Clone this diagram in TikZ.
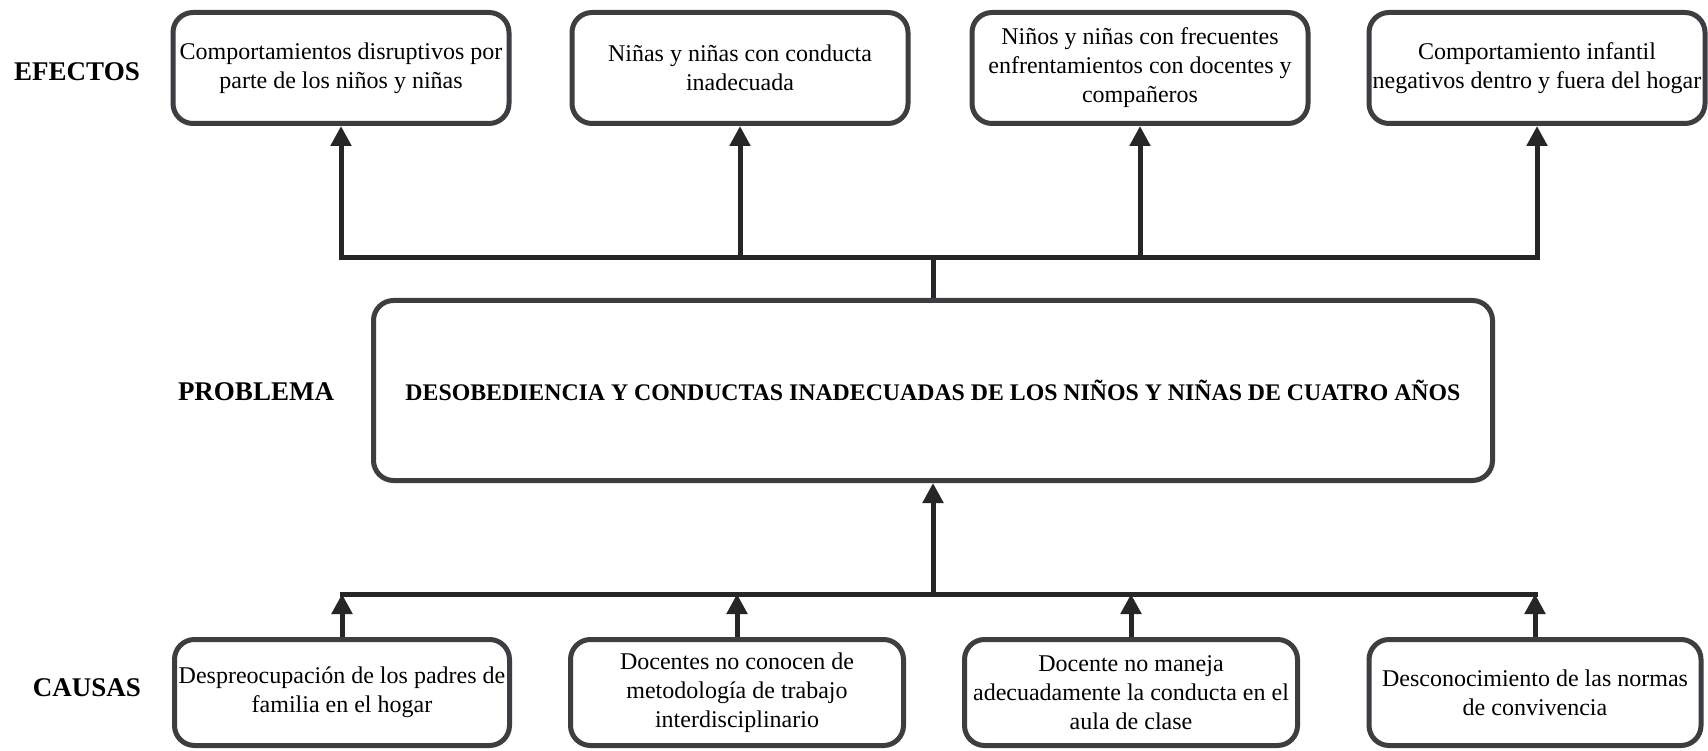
\documentclass[tikz,border=0pt]{standalone}
\usepackage{fontspec}
\setmainfont{Liberation Serif}
\usetikzlibrary{arrows.meta}
\definecolor{boxc}{RGB}{62,62,66}
\definecolor{linec}{RGB}{38,38,40}
\begin{document}
\begin{tikzpicture}[x=1pt,y=-1pt,
  box/.style={draw=boxc, line width=5pt, rounded corners=20pt, fill=white, align=center, inner sep=0pt, font=\fontsize{24}{29}\selectfont},
  ebox/.style={box, minimum width=336pt, minimum height=111pt},
  cbox/.style={box, minimum height=106pt},
  pbox/.style={box, minimum width=1119pt, minimum height=180pt, font=\bfseries\fontsize{23.8}{28}\selectfont},
  lbl/.style={font=\bfseries\fontsize{27}{32}\selectfont, inner sep=0pt},
  conn/.style={draw=linec, line width=5pt},
  arr/.style={conn, -{Triangle[length=20pt,width=20pt]}}
]
\fill[white] (0,0) rectangle (1708,751);
\useasboundingbox (0,0) rectangle (1708,751);

% labels
\node[lbl] (lefe) at (77,72) {EFECTOS};
\node[lbl] (lpro) at (256,392) {PROBLEMA};
\node[lbl] (lcau) at (87,688) {CAUSAS};

% effects
\node[ebox] (e1) at (341,68) {Comportamientos disruptivos por\\parte de los niños y niñas};
\node[ebox] (e2) at (740,68) {Niñas y niñas con conducta\\inadecuada};
\node[ebox] (e3) at (1140,68) {Niños y niñas con frecuentes\\enfrentamientos con docentes y\\compañeros};
\node[ebox] (e4) at (1537,68) {Comportamiento infantil\\negativos dentro y fuera del hogar};

% problem
\node[pbox] (p) at (933,390.5) {DESOBEDIENCIA Y CONDUCTAS INADECUADAS DE LOS NIÑOS Y NIÑAS DE CUATRO AÑOS};

% causes
\node[cbox, minimum width=335pt] (c1) at (342,692.5) {Despreocupación de los padres de\\familia en el hogar};
\node[cbox, minimum width=333pt] (c2) at (737,692.5) {Docentes no conocen de\\metodología de trabajo\\interdisciplinario};
\node[cbox, minimum width=333pt] (c3) at (1131,692.5) {Docente no maneja\\adecuadamente la conducta en el\\aula de clase};
\node[cbox, minimum width=332pt] (c4) at (1535,692.5) {Desconocimiento de las normas\\de convivencia};

% top connectors
\coordinate (tj) at (933,258);
\draw[conn] (p.north) -- (tj);
\draw[arr] (tj) -| (e1.south);
\draw[arr] (tj) -| (e2.south);
\draw[arr] (tj) -| (e3.south);
\draw[arr] (tj) -| (e4.south);

% bottom connectors
\coordinate (bj) at (933,594);
\draw[arr] (bj) -- (p.south);
\draw[conn, line cap=rect] (c1.north |- bj) -- (c4.north |- bj);
\draw[arr] (c1.north) -- (c1.north |- bj);
\draw[arr] (c2.north) -- (c2.north |- bj);
\draw[arr] (c3.north) -- (c3.north |- bj);
\draw[arr] (c4.north) -- (c4.north |- bj);
\end{tikzpicture}
\end{document}
